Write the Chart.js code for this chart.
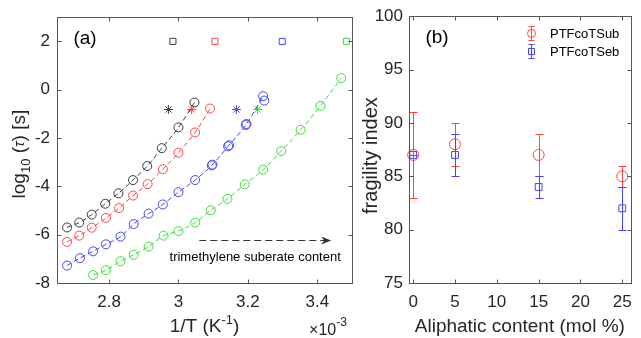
<!DOCTYPE html>
<html>
<head>
<meta charset="utf-8">
<script src="https://cdn.jsdelivr.net/npm/chart.js@4.4.1/dist/chart.umd.min.js"></script>
<style>
    body { margin: 0; background: #fff; width: 641px; height: 338px; overflow: hidden; position: relative; }
    #wrapA { position: absolute; left: 0; top: 0; width: 360px; height: 338px; }
    #wrapB { position: absolute; left: 360px; top: 0; width: 281px; height: 338px; }
</style>
</head>
<body>
<div id="wrapA"><canvas id="chartA" width="360" height="338"></canvas></div>
<div id="wrapB"><canvas id="chartB" width="281" height="338"></canvas></div>
<script>
// panel (a): x = 1/T in 1e-3 K^-1, y = log10(tau) [s]
const blackX = [2.679, 2.714, 2.750, 2.789, 2.827, 2.869, 2.910, 2.952, 3.000, 3.046];
const blackY = [-5.70, -5.50, -5.17, -4.72, -4.29, -3.74, -3.16, -2.42, -1.56, -0.53];
const redX = [2.679, 2.714, 2.750, 2.791, 2.829, 2.869, 2.911, 2.955, 3.000, 3.048, 3.091];
const redY = [-6.30, -6.04, -5.71, -5.31, -4.90, -4.38, -3.91, -3.29, -2.61, -1.77, -0.78];
const blueX = [2.679, 2.716, 2.754, 2.791, 2.833, 2.871, 2.914, 2.955, 3.000, 3.048, 3.096, 3.143, 3.194, 3.244];
const blueY = [-7.28, -6.97, -6.69, -6.40, -6.08, -5.56, -5.13, -4.75, -4.24, -3.74, -3.13, -2.34, -1.46, -0.27];
const blueExtraX = [3.098, 3.146, 3.196, 3.247];
const blueExtraY = [-3.10, -2.30, -1.42, -0.45];
const greenX = [2.754, 2.791, 2.833, 2.871, 2.914, 2.957, 3.000, 3.048, 3.093, 3.141, 3.191, 3.244, 3.296, 3.352, 3.409, 3.469];
const greenY = [-7.67, -7.47, -7.10, -6.83, -6.49, -6.04, -5.85, -5.50, -4.99, -4.52, -3.92, -3.31, -2.54, -1.66, -0.67, 0.48];
const starX = [2.971, 3.038, 3.167, 3.228];
const starY = [-0.82, -0.82, -0.82, -0.82];
const squareX = [2.984, 3.105, 3.299, 3.484];
const squareY = [2, 2, 2, 2];
const xTicksA = [2.8, 3.0, 3.2, 3.4];
const xTickLabelsA = ['2.8', '3', '3.2', '3.4'];
const yTicksA = [-8, -6, -4, -2, 0, 2];

// panel (b): fragility index vs aliphatic content
const aliphatic = [0, 5, 15, 25];
const subMean = [87, 88, 87, 85];
const subLow = [83, 86, 85, 84];
const subHigh = [91, 90, 89, 86];
const sebMean = [87, 87, 84, 82];
const sebLow = [87, 85, 83, 80];
const sebHigh = [87, 89, 85, 84];
const seriesNames = ['PTFcoTSub', 'PTFcoTSeb'];
const xTicksB = [0, 5, 10, 15, 20, 25];
const yTicksB = [75, 80, 85, 90, 95, 100];

const colors = {
    black: '#3c3c3c',
    red: '#ff4545',
    blue: '#4545ff',
    green: '#38e038'
};
const FONT = '"Liberation Sans", Arial, Helvetica, sans-serif';
Chart.defaults.font.family = FONT;
Chart.defaults.color = '#262626';

function pts(xs, ys) {
    return xs.map((x, i) => ({ x: x, y: ys[i] }));
}

function richText(ctx, parts, cx, cy, angle) {
    ctx.save();
    ctx.translate(cx, cy);
    ctx.rotate(angle);
    let w = 0;
    parts.forEach(p => { ctx.font = p.font; w += ctx.measureText(p.t).width; });
    let x = -w / 2;
    ctx.textBaseline = 'middle';
    ctx.textAlign = 'left';
    parts.forEach(p => {
        ctx.font = p.font;
        ctx.fillText(p.t, x, p.dy || 0);
        x += ctx.measureText(p.t).width;
    });
    ctx.restore();
}

function line(ctx, x1, y1, x2, y2, color) {
    ctx.beginPath();
    if (color) ctx.strokeStyle = color;
    ctx.moveTo(x1, y1);
    ctx.lineTo(x2, y2);
    ctx.stroke();
}

// MATLAB-like box with inward ticks on all sides
const boxPlugin = {
    id: 'box',
    afterDraw(chart) {
        const { ctx, chartArea: a, scales } = chart;
        const L = Math.round(a.left) + 0.5, R = Math.round(a.right) + 0.5;
        const T = Math.round(a.top) + 0.5, B = Math.round(a.bottom) + 0.5;
        ctx.save();
        ctx.strokeStyle = '#555';
        ctx.lineWidth = 1;
        ctx.strokeRect(L, T, R - L, B - T);
        scales.x.ticks.forEach(t => {
            const px = Math.round(scales.x.getPixelForValue(t.value)) + 0.5;
            line(ctx, px, B, px, B - 4);
            line(ctx, px, T, px, T + 4);
        });
        scales.y.ticks.forEach(t => {
            const py = Math.round(scales.y.getPixelForValue(t.value)) + 0.5;
            line(ctx, L, py, L + 4, py);
            line(ctx, R, py, R - 4, py);
        });
        ctx.restore();
    }
};

const textA = {
    id: 'textA',
    afterDraw(chart) {
        const { ctx, chartArea: a, scales } = chart;
        const f = (s, st) => (st || '') + ' ' + s + 'px ' + FONT;
        ctx.save();
        ctx.fillStyle = '#000';
        richText(ctx, [{ t: '(a)', font: f(19) }], a.left + 28, a.top + 22, 0);

        // arrow
        const x1 = scales.x.getPixelForValue(3.06), x2 = scales.x.getPixelForValue(3.44);
        const ya = Math.round(scales.y.getPixelForValue(-6.2)) + 0.5;
        ctx.strokeStyle = '#333';
        ctx.fillStyle = '#333';
        ctx.lineWidth = 1;
        ctx.setLineDash([7, 4]);
        line(ctx, x1, ya, x2 - 6, ya);
        ctx.setLineDash([]);
        ctx.beginPath();
        ctx.moveTo(x2, ya);
        ctx.lineTo(x2 - 10, ya - 4);
        ctx.lineTo(x2 - 7, ya);
        ctx.lineTo(x2 - 10, ya + 4);
        ctx.closePath();
        ctx.fill();

        ctx.fillStyle = '#000';
        richText(ctx, [{ t: 'trimethylene suberate content', font: f(13) }],
            scales.x.getPixelForValue(3.221), scales.y.getPixelForValue(-6.93), 0);

        ctx.fillStyle = '#262626';
        richText(ctx, [
            { t: 'log', font: f(19) },
            { t: '10', font: f(13), dy: 6 },
            { t: ' (', font: f(19) },
            { t: 'τ', font: f(15, 'italic') },
            { t: ') [s]', font: f(19) }
        ], 20, (a.top + a.bottom) / 2 + 4, -Math.PI / 2);
        richText(ctx, [
            { t: '1/T (K', font: f(19) },
            { t: '-1', font: f(13), dy: -7 },
            { t: ')', font: f(19) }
        ], (a.left + a.right) / 2, 327, 0);
        richText(ctx, [
            { t: '×10', font: f(16) },
            { t: '-3', font: f(12), dy: -8 }
        ], 328, 331, 0);
        ctx.restore();
    }
};

function seriesA(xs, ys, color) {
    return [
        { data: pts(xs, ys), showLine: true, borderColor: color, borderWidth: 1, borderDash: [5, 3],
          pointRadius: 0, cubicInterpolationMode: 'monotone', clip: false },
        { data: pts(xs, ys), borderColor: color, backgroundColor: 'transparent', pointStyle: 'circle',
          pointRadius: 4.5, pointBorderWidth: 1, clip: false }
    ];
}

const markerColors = [colors.black, colors.red, colors.blue, colors.green];
const tickFont = { size: 17 };

new Chart(document.getElementById('chartA'), {
    type: 'scatter',
    data: {
        datasets: [
            ...seriesA(blackX, blackY, colors.black),
            ...seriesA(redX, redY, colors.red),
            ...seriesA(blueX, blueY, colors.blue),
            { data: pts(blueExtraX, blueExtraY), borderColor: colors.blue, backgroundColor: 'transparent',
              pointRadius: 4.5, pointBorderWidth: 1, clip: false },
            ...seriesA(greenX, greenY, colors.green),
            { data: pts(starX, starY), pointStyle: 'star', pointRadius: 4.5, pointBorderWidth: 1,
              borderColor: markerColors, backgroundColor: markerColors, clip: false },
            { data: pts(squareX, squareY), pointStyle: 'rect', pointRadius: 4.3, pointBorderWidth: 1,
              borderColor: markerColors, backgroundColor: 'transparent', clip: false }
        ]
    },
    options: {
        responsive: false,
        animation: false,
        devicePixelRatio: 1,
        layout: { padding: { left: 0, right: 8, top: 13, bottom: 0 } },
        plugins: { legend: { display: false }, tooltip: { enabled: false } },
        scales: {
            x: {
                type: 'linear', min: 2.65, max: 3.5,
                afterBuildTicks: s => { s.ticks = xTicksA.map(v => ({ value: v })); },
                afterFit: s => { s.height = 55; },
                grid: { display: false, drawTicks: false },
                border: { display: false },
                ticks: { padding: 9, maxRotation: 0, autoSkip: false, font: tickFont,
                         callback: v => xTickLabelsA[xTicksA.indexOf(v)] }
            },
            y: {
                type: 'linear', min: -8, max: 3,
                afterBuildTicks: s => { s.ticks = yTicksA.map(v => ({ value: v })); },
                afterFit: s => { s.width = 57; },
                grid: { display: false, drawTicks: false },
                border: { display: false },
                ticks: { padding: 7, autoSkip: false, font: tickFont }
            }
        }
    },
    plugins: [boxPlugin, textA]
});

// vertical error bars with caps
const errorBars = {
    id: 'errorBars',
    afterDatasetsDraw(chart) {
        const { ctx, scales } = chart;
        const sets = [
            { lo: subLow, hi: subHigh, color: colors.red },
            { lo: sebLow, hi: sebHigh, color: colors.blue }
        ];
        ctx.save();
        ctx.lineWidth = 1;
        ctx.setLineDash([]);
        sets.forEach(s => {
            aliphatic.forEach((v, i) => {
                const px = Math.round(scales.x.getPixelForValue(v)) + 0.5;
                const y1 = Math.round(scales.y.getPixelForValue(s.lo[i])) + 0.5;
                const y2 = Math.round(scales.y.getPixelForValue(s.hi[i])) + 0.5;
                line(ctx, px, y1, px, y2, s.color);
                line(ctx, px - 4, y1, px + 4, y1, s.color);
                line(ctx, px - 4, y2, px + 4, y2, s.color);
            });
        });
        ctx.restore();
    }
};

const textB = {
    id: 'textB',
    afterDraw(chart) {
        const { ctx, chartArea: a } = chart;
        const f = s => s + 'px ' + FONT;
        ctx.save();
        ctx.fillStyle = '#000';
        richText(ctx, [{ t: '(b)', font: f(19) }], a.left + 28, a.top + 22, 0);
        ctx.fillStyle = '#262626';
        richText(ctx, [{ t: 'fragility index', font: f(20) }], 11, (a.top + a.bottom) / 2 + 6, -Math.PI / 2);
        richText(ctx, [{ t: 'Aliphatic content (mol %)', font: f(19) }], (a.left + a.right) / 2, 327, 0);

        // legend
        const rows = [[33.5, colors.red, 'circle'], [51.5, colors.blue, 'rect']];
        ctx.lineWidth = 1;
        rows.forEach(([y, c, shape], i) => {
            const x = 171.5;
            line(ctx, x, y - 7, x, y + 7, c);
            line(ctx, x - 3, y - 7, x + 3, y - 7, c);
            line(ctx, x - 3, y + 7, x + 3, y + 7, c);
            ctx.beginPath();
            if (shape === 'circle') ctx.arc(x, y, 4, 0, Math.PI * 2);
            else ctx.rect(x - 3, y - 3, 6, 6);
            ctx.strokeStyle = c;
            ctx.stroke();
            ctx.fillStyle = '#000';
            ctx.font = f(13);
            ctx.textAlign = 'left';
            ctx.textBaseline = 'middle';
            ctx.fillText(seriesNames[i], 190, y + 1);
        });
        ctx.restore();
    }
};

new Chart(document.getElementById('chartB'), {
    type: 'scatter',
    data: {
        datasets: [
            { label: seriesNames[0], data: pts(aliphatic, subMean), pointStyle: 'circle', pointRadius: 5.5,
              pointBorderWidth: 1, borderColor: colors.red, backgroundColor: 'transparent', clip: false },
            { label: seriesNames[1], data: pts(aliphatic, sebMean), pointStyle: 'rect', pointRadius: 4.8,
              pointBorderWidth: 1, borderColor: colors.blue, backgroundColor: 'transparent', clip: false }
        ]
    },
    options: {
        responsive: false,
        animation: false,
        devicePixelRatio: 1,
        layout: { padding: { left: 0, right: 2, top: 13, bottom: 0 } },
        plugins: { legend: { display: false }, tooltip: { enabled: false } },
        scales: {
            x: {
                type: 'linear', min: -0.5, max: 26,
                afterBuildTicks: s => { s.ticks = xTicksB.map(v => ({ value: v })); },
                afterFit: s => { s.height = 55; },
                grid: { display: false, drawTicks: false },
                border: { display: false },
                ticks: { padding: 9, maxRotation: 0, autoSkip: false, font: tickFont }
            },
            y: {
                type: 'linear', min: 75, max: 100,
                afterBuildTicks: s => { s.ticks = yTicksB.map(v => ({ value: v })); },
                afterFit: s => { s.width = 49; },
                grid: { display: false, drawTicks: false },
                border: { display: false },
                ticks: { padding: 6, autoSkip: false, font: tickFont }
            }
        }
    },
    plugins: [boxPlugin, errorBars, textB]
});
</script>
</body>
</html>
